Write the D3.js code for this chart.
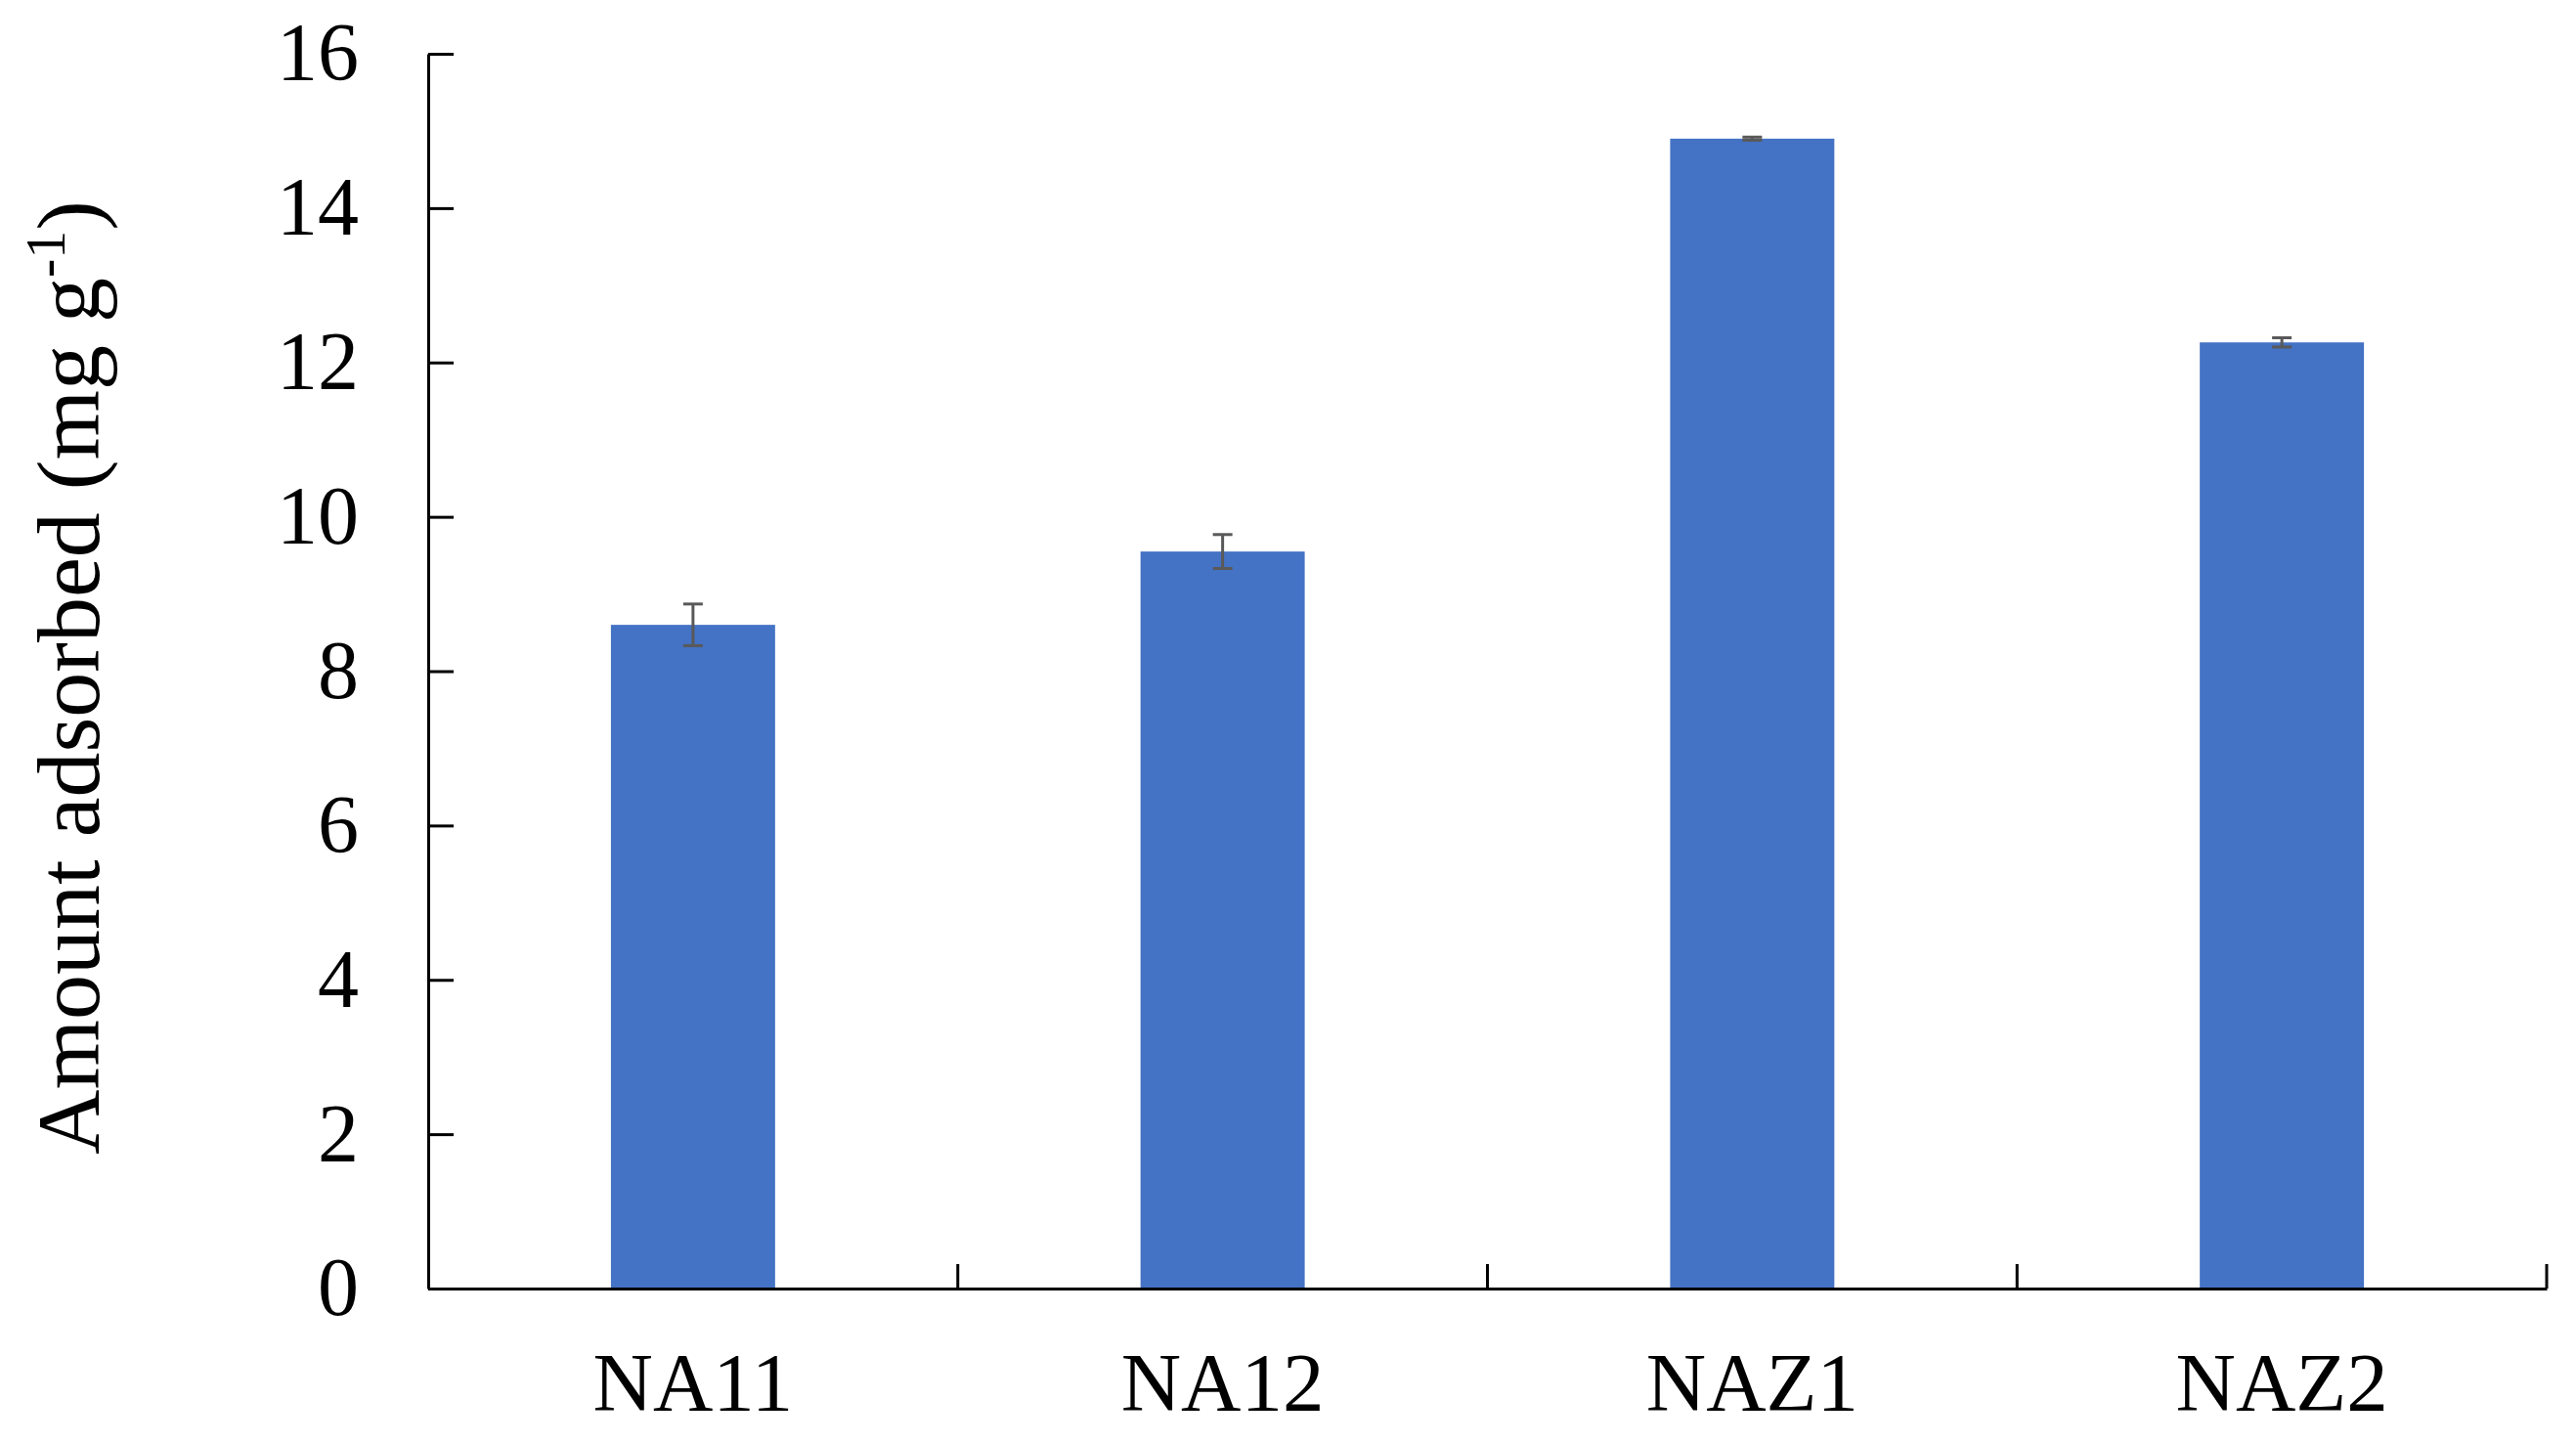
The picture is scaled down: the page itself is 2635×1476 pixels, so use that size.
<!DOCTYPE html>
<html>
<head>
<meta charset="utf-8">
<script src="https://cdn.jsdelivr.net/npm/d3@7"></script>
<style>
  html, body { margin: 0; padding: 0; background: #fff; }
  svg { display: block; }
  text { font-family: "Liberation Serif", "Times New Roman", serif; fill: #000; }
</style>
</head>
<body>
<script>
const categories = ["NA11", "NA12", "NAZ1", "NAZ2"];
const values = [8.60, 9.55, 14.90, 12.26];
const errors = [0.27, 0.22, 0.02, 0.06];
const yTickValues = [0, 2, 4, 6, 8, 10, 12, 14, 16];
const yTitle = "Amount adsorbed (mg g";
const ySup = "-1";

const W = 2635, H = 1476;
const margin = { left: 438, right: W - 2605, top: 55, bottom: H - 1318 };

const svg = d3.select("body").append("svg").attr("width", W).attr("height", H);

const x = d3.scaleBand().domain(categories).range([margin.left, W - margin.right]).paddingInner(0).paddingOuter(0);
const y = d3.scaleLinear().domain([0, 16]).range([H - margin.bottom, margin.top]);
const barFrac = 0.31;
const barW = x.bandwidth() * barFrac;

const data = categories.map((c, i) => ({ c, v: values[i], e: errors[i] }));

// bars
svg.append("g").selectAll("rect").data(data).join("rect")
  .attr("x", d => x(d.c) + (x.bandwidth() - barW) / 2)
  .attr("y", d => y(d.v))
  .attr("width", barW)
  .attr("height", d => y(0) - y(d.v))
  .attr("fill", "#4472C4");

// error bars
const eg = svg.append("g").attr("stroke", "#595959").attr("stroke-width", 3);
const capW = 20;
data.forEach(d => {
  const cx = x(d.c) + x.bandwidth() / 2;
  eg.append("line").attr("x1", cx).attr("x2", cx).attr("y1", y(d.v + d.e)).attr("y2", y(d.v - d.e));
  eg.append("line").attr("x1", cx - capW / 2).attr("x2", cx + capW / 2).attr("y1", y(d.v + d.e)).attr("y2", y(d.v + d.e));
  eg.append("line").attr("x1", cx - capW / 2).attr("x2", cx + capW / 2).attr("y1", y(d.v - d.e)).attr("y2", y(d.v - d.e));
});

// y axis
const yAxis = d3.axisLeft(y).tickValues(yTickValues).tickSizeInner(-26).tickSizeOuter(0).tickPadding(71).tickFormat(d3.format("d"));
const gy = svg.append("g").attr("transform", `translate(${margin.left},0)`).call(yAxis);
gy.select(".domain").attr("stroke", "#000").attr("stroke-width", 3);
gy.selectAll(".tick line").attr("stroke", "#000").attr("stroke-width", 3);
gy.selectAll(".tick text").attr("font-size", 84).attr("font-family", "Liberation Serif").attr("fill", "#000");

// x axis
const xAxis = d3.axisBottom(x).tickSize(0).tickPadding(0).tickSizeOuter(0);
const gx = svg.append("g").attr("transform", `translate(0,${y(0)})`).call(xAxis);
gx.select(".domain").attr("stroke", "#000").attr("stroke-width", 3);
gx.selectAll(".tick text").attr("font-size", 85).attr("font-family", "Liberation Serif").attr("fill", "#000")
  .attr("dy", null).attr("y", 125);
// boundary ticks (pointing up)
svg.append("g").selectAll("line").data(categories).join("line")
  .attr("x1", d => x(d) + x.bandwidth()).attr("x2", d => x(d) + x.bandwidth())
  .attr("y1", y(0)).attr("y2", y(0) - 25)
  .attr("stroke", "#000").attr("stroke-width", 3);

// y title
const t = svg.append("text")
  .attr("transform", `translate(101,693) rotate(-90)`)
  .attr("text-anchor", "middle")
  .attr("font-size", 92);
t.append("tspan").text(yTitle);
t.append("tspan").text(ySup).attr("font-size", 58).attr("dy", -35);
t.append("tspan").text(")").attr("dy", 35);
</script>
</body>
</html>
